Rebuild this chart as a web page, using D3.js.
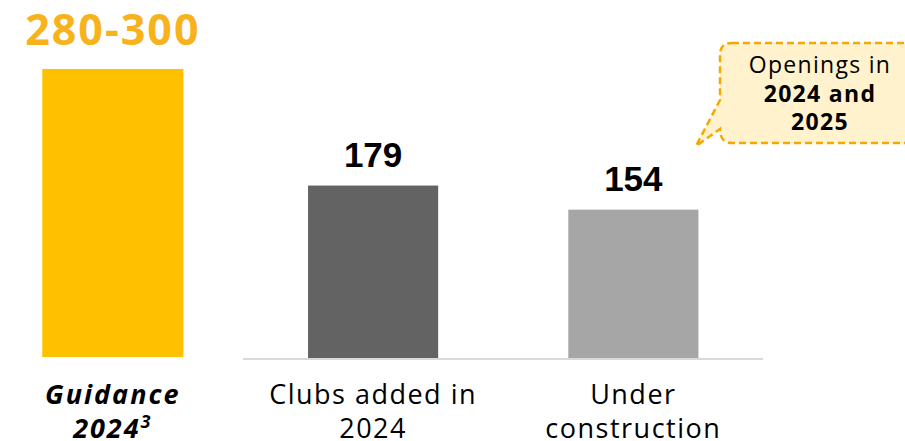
<!DOCTYPE html>
<html>
<head>
<meta charset="utf-8">
<script src="https://cdn.jsdelivr.net/npm/d3@7"></script>
<style>
  body { margin: 0; background: #fff; }
  svg { display: block; }
</style>
</head>
<body>
<script>
// Clubs chart
var categories = ['Guidance 2024', 'Clubs added in 2024', 'Under construction'];
var values = [300, 179, 154];
var valueLabels = ['280-300', '179', '154'];
var catLines = [['Guidance', '2024'], ['Clubs added in', '2024'], ['Under', 'construction']];
var colors = ['#FFC000', '#636363', '#A6A6A6'];
var calloutLines = ['Openings in', '2024 and', '2025'];

var w = 905;
var h = 441;
var baseY = 358;

var svg = d3.select('body').append('svg').attr('width', w).attr('height', h);

var x = d3.scaleBand().domain(categories)
    .range([-17.3, 763.5])
    .paddingInner(0.5)
    .paddingOuter(0.25);

var y = d3.scaleLinear().domain([0, 300]).range([baseY, 69]);

// baseline for the actual numbers
svg.append('line')
    .attr('x1', x(categories[1]) - x.bandwidth() / 2)
    .attr('x2', 763)
    .attr('y1', baseY + 1)
    .attr('y2', baseY + 1)
    .attr('stroke', '#d9d9d9')
    .attr('stroke-width', 2);

svg.selectAll('rect.bar').data(values).enter().append('rect')
    .attr('class', 'bar')
    .attr('x', function(d, i) {
        return x(categories[i]) - (i === 0 ? 5.5 : 0);
    })
    .attr('y', function(d) { return y(d); })
    .attr('width', function(d, i) { return x.bandwidth() + (i === 0 ? 11 : 0); })
    .attr('height', function(d, i) { return baseY - y(d) - (i === 0 ? 1 : 0); })
    .attr('fill', function(d, i) { return colors[i]; });

// value labels
svg.selectAll('text.val').data(values).enter().append('text')
    .attr('class', 'val')
    .text(function(d, i) { return valueLabels[i]; })
    .attr('x', function(d, i) { return x(categories[i]) + x.bandwidth() / 2; })
    .attr('y', function(d, i) { return i === 0 ? 45 : y(d) - 19; })
    .attr('text-anchor', 'middle')
    .attr('font-family', function(d, i) { return i === 0 ? 'Open Sans, sans-serif' : 'Liberation Sans, Arial, sans-serif'; })
    .attr('font-weight', 'bold')
    .attr('font-size', function(d, i) { return i === 0 ? '43px' : '35px'; })
    .attr('letter-spacing', function(d, i) { return i === 0 ? '2px' : '0px'; })
    .attr('fill', function(d, i) { return i === 0 ? '#F8B31C' : '#000'; });

// category labels
catLines.forEach(function(lines, i) {
    var t = svg.append('text')
        .attr('text-anchor', 'middle')
        .attr('font-family', 'Open Sans, sans-serif')
        .attr('font-size', i === 0 ? '27px' : '27px')
        .attr('letter-spacing', i === 0 ? '2px' : '1.5px')
        .attr('fill', '#000')
        .attr('font-weight', i === 0 ? 'bold' : 'normal')
        .attr('font-style', i === 0 ? 'italic' : 'normal');
    lines.forEach(function(l, j) {
        var ts = t.append('tspan')
            .attr('x', x(categories[i]) + x.bandwidth() / 2)
            .attr('y', 404 + j * 34)
            .text(l);
        if (i === 0 && j === 1) {
            ts.append('tspan').attr('dy', -10).attr('font-size', '18px').text('3');
        }
    });
});

// callout bubble
var bx = 720, by = 43, bw = 200, bh = 100, r = 12;
var path = d3.path();
path.moveTo(bx + r, by);
path.lineTo(bx + bw, by);
path.lineTo(bx + bw, by + bh);
path.lineTo(bx + r, by + bh);
path.quadraticCurveTo(bx, by + bh, bx, by + bh - r - 2);
path.lineTo(696, 146);
path.lineTo(bx, by + 57);
path.lineTo(bx, by + r);
path.quadraticCurveTo(bx, by, bx + r, by);
path.closePath();

svg.append('path')
    .attr('d', path.toString())
    .attr('fill', '#FFF2CC')
    .attr('stroke', '#F5A800')
    .attr('stroke-width', 2.5)
    .attr('stroke-dasharray', '7,4');

svg.selectAll('text.call').data(calloutLines).enter().append('text')
    .attr('class', 'call')
    .text(function(d) { return d; })
    .attr('x', 820)
    .attr('y', function(d, i) { return 73 + i * 28.5; })
    .attr('text-anchor', 'middle')
    .attr('font-family', 'Open Sans, sans-serif')
    .attr('font-size', '23px')
    .attr('letter-spacing', '1.3px')
    .attr('font-weight', function(d, i) { return i === 0 ? 'normal' : 'bold'; })
    .attr('fill', '#000');
</script>
</body>
</html>
